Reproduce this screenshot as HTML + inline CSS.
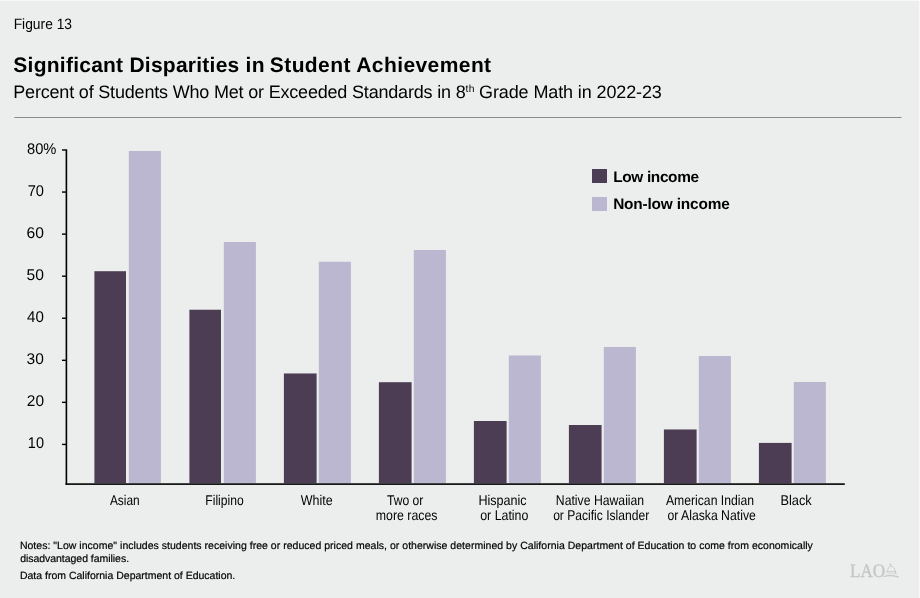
<!DOCTYPE html>
<html>
<head>
<meta charset="utf-8">
<style>
html,body{margin:0;padding:0;}
body{width:920px;height:598px;overflow:hidden;background:#eceeed;position:relative;}
svg{position:absolute;left:0;top:0;display:block;will-change:transform;}
text{font-family:"Liberation Sans",Arial,Helvetica,sans-serif;fill:#000;text-rendering:geometricPrecision;}
</style>
</head>
<body>
<svg width="920" height="598" viewBox="0 0 920 598">
  <rect x="0" y="0" width="920" height="1" fill="#f8f8f8"/>
  <rect x="919" y="0" width="1" height="598" fill="#f8f8f8"/>
  <rect x="14.3" y="117" width="887.2" height="1" fill="#8a8b8d"/>
  <g fill="#4c3d55">
    <rect x="94.40" y="271.20" width="31.60" height="212.00"/>
    <rect x="189.40" y="309.74" width="31.60" height="173.46"/>
    <rect x="283.90" y="373.46" width="32.70" height="109.74"/>
    <rect x="378.90" y="382.20" width="32.70" height="101.00"/>
    <rect x="473.90" y="421.00" width="32.70" height="62.20"/>
    <rect x="568.90" y="425.00" width="32.70" height="58.20"/>
    <rect x="663.90" y="429.46" width="32.70" height="53.74"/>
    <rect x="758.90" y="442.90" width="32.70" height="40.30"/>
  </g>
  <g fill="#bcb7d0">
    <rect x="128.80" y="150.98" width="32.1" height="332.22"/>
    <rect x="223.80" y="241.98" width="32.1" height="241.22"/>
    <rect x="318.80" y="261.74" width="32.1" height="221.46"/>
    <rect x="413.80" y="249.98" width="32.1" height="233.22"/>
    <rect x="508.80" y="355.46" width="32.1" height="127.74"/>
    <rect x="603.80" y="346.98" width="32.1" height="136.22"/>
    <rect x="698.80" y="355.98" width="32.1" height="127.22"/>
    <rect x="793.80" y="381.98" width="32.1" height="101.22"/>
  </g>
  <g fill="#000">
    <rect x="65.6" y="149.3" width="1.6" height="335.6"/>
    <rect x="65.6" y="483.3" width="779.2" height="1.6"/>
    <rect x="62" y="149.30" width="4" height="1.4"/>
    <rect x="62" y="191.36" width="4" height="1.4"/>
    <rect x="62" y="233.42" width="4" height="1.4"/>
    <rect x="62" y="275.48" width="4" height="1.4"/>
    <rect x="62" y="317.54" width="4" height="1.4"/>
    <rect x="62" y="359.60" width="4" height="1.4"/>
    <rect x="62" y="401.66" width="4" height="1.4"/>
    <rect x="62" y="443.72" width="4" height="1.4"/>
  </g>
  <rect x="592" y="169" width="15" height="14" fill="#4c3d55"/>
  <rect x="592" y="197" width="15" height="14" fill="#bcb7d0"/>
  <text id="fig" x="13.68" y="28.60" textLength="58.33" lengthAdjust="spacingAndGlyphs" style="font-size:15px;font-weight:400;">Figure 13</text>
  <text id="title1" x="13.35" y="71.90" textLength="251.15" lengthAdjust="spacing" style="font-size:21px;font-weight:700;">Significant Disparities in</text>
  <text id="title2" x="269.82" y="71.90" textLength="221.30" lengthAdjust="spacing" style="font-size:21px;font-weight:700;">Student Achievement</text>
  <text id="sub1" x="13.30" y="97.80" textLength="452.35" lengthAdjust="spacing" style="font-size:18px;font-weight:400;">Percent of Students Who Met or Exceeded Standards in 8</text>
  <text id="sub2" x="465.60" y="91.65" textLength="8.97" lengthAdjust="spacing" style="font-size:10.3px;font-weight:400;">th</text>
  <text id="sub3" x="479.04" y="97.80" textLength="182.81" lengthAdjust="spacing" style="font-size:18px;font-weight:400;">Grade Math in 2022-23</text>
  <text id="lg1" x="613.24" y="182.00" textLength="85.81" lengthAdjust="spacing" style="font-size:15.4px;font-weight:700;">Low income</text>
  <text id="lg2" x="613.16" y="208.70" textLength="116.61" lengthAdjust="spacing" style="font-size:15.4px;font-weight:700;">Non-low income</text>
  <text id="c1" x="109.90" y="504.70" textLength="29.81" lengthAdjust="spacingAndGlyphs" style="font-size:14.1px;font-weight:400;">Asian</text>
  <text id="c2" x="205.33" y="504.70" textLength="38.33" lengthAdjust="spacingAndGlyphs" style="font-size:14.1px;font-weight:400;">Filipino</text>
  <text id="c3" x="300.75" y="504.70" textLength="32.00" lengthAdjust="spacingAndGlyphs" style="font-size:14.1px;font-weight:400;">White</text>
  <text id="c4a" x="387.01" y="504.70" textLength="36.37" lengthAdjust="spacingAndGlyphs" style="font-size:14.1px;font-weight:400;">Two or</text>
  <text id="c4b" x="375.77" y="519.60" textLength="61.75" lengthAdjust="spacingAndGlyphs" style="font-size:14.1px;font-weight:400;">more races</text>
  <text id="c5a" x="478.39" y="504.70" textLength="48.25" lengthAdjust="spacingAndGlyphs" style="font-size:14.1px;font-weight:400;">Hispanic</text>
  <text id="c5b" x="480.16" y="519.60" textLength="48.27" lengthAdjust="spacingAndGlyphs" style="font-size:14.1px;font-weight:400;">or Latino</text>
  <text id="c6a" x="555.83" y="504.70" textLength="88.34" lengthAdjust="spacingAndGlyphs" style="font-size:14.1px;font-weight:400;">Native Hawaiian</text>
  <text id="c6b" x="553.13" y="519.60" textLength="96.05" lengthAdjust="spacingAndGlyphs" style="font-size:14.1px;font-weight:400;">or Pacific Islander</text>
  <text id="c7a" x="665.92" y="504.70" textLength="88.15" lengthAdjust="spacingAndGlyphs" style="font-size:14.1px;font-weight:400;">American Indian</text>
  <text id="c7b" x="667.41" y="519.60" textLength="88.40" lengthAdjust="spacingAndGlyphs" style="font-size:14.1px;font-weight:400;">or Alaska Native</text>
  <text id="c8" x="780.48" y="504.70" textLength="31.26" lengthAdjust="spacingAndGlyphs" style="font-size:14.1px;font-weight:400;">Black</text>
  <text id="n1" x="19.88" y="548.80" textLength="792.99" lengthAdjust="spacing" style="font-size:10.5px;font-weight:400;stroke:#000;stroke-width:0.2px;">Notes: "Low income" includes students receiving free or reduced priced meals, or otherwise determined by California Department of Education to come from economically</text>
  <text id="n2" x="20.14" y="561.60" textLength="108.91" lengthAdjust="spacing" style="font-size:10.5px;font-weight:400;stroke:#000;stroke-width:0.2px;">disadvantaged families.</text>
  <text id="n3" x="19.88" y="578.50" textLength="215.41" lengthAdjust="spacing" style="font-size:10.5px;font-weight:400;stroke:#000;stroke-width:0.2px;">Data from California Department of Education.</text>
  <text id="y80" x="27.00" y="153.70" textLength="29.41" lengthAdjust="spacingAndGlyphs" style="font-size:15.5px;font-weight:400;">80%</text>
  <text id="y70" x="27.65" y="195.76" textLength="16.27" lengthAdjust="spacingAndGlyphs" style="font-size:15.5px;font-weight:400;">70</text>
  <text id="y60" x="26.58" y="237.82" textLength="17.38" lengthAdjust="spacingAndGlyphs" style="font-size:15.5px;font-weight:400;">60</text>
  <text id="y50" x="26.45" y="279.88" textLength="17.41" lengthAdjust="spacingAndGlyphs" style="font-size:15.5px;font-weight:400;">50</text>
  <text id="y40" x="27.09" y="321.94" textLength="16.82" lengthAdjust="spacingAndGlyphs" style="font-size:15.5px;font-weight:400;">40</text>
  <text id="y30" x="26.62" y="364.00" textLength="17.23" lengthAdjust="spacingAndGlyphs" style="font-size:15.5px;font-weight:400;">30</text>
  <text id="y20" x="26.81" y="406.06" textLength="17.24" lengthAdjust="spacingAndGlyphs" style="font-size:15.5px;font-weight:400;">20</text>
  <text id="y10" x="27.86" y="448.12" textLength="16.13" lengthAdjust="spacingAndGlyphs" style="font-size:15.5px;font-weight:400;">10</text>
  <!-- LAO logo -->
  <text x="850" y="576.8" transform="translate(850 0) scale(0.9 1) translate(-850 0)" style="font-family:'Liberation Serif',serif;font-size:19px;fill:#c4c5c6;stroke:#c4c5c6;stroke-width:0.3px">LAO</text>
  <g fill="none" stroke="#c6c7c8" stroke-width="0.9" stroke-linecap="round">
    <path d="M889.4 564.2 Q890.4 563.4 891.4 564.2"/>
    <path d="M890.4 564.6 L890.4 566"/>
    <path d="M887.6 570.8 C887.8 568 889.2 566.4 890.6 566.2 C892.6 566.1 894.6 567.8 895.2 571"/>
    <path d="M886 571.7 L895.8 571.7" stroke-width="1.1"/>
    <path d="M895.4 571.8 L896 573.7"/>
    <path d="M886.8 573.6 L896.2 573.6" stroke-opacity="0.5"/>
    <path d="M884 576.6 Q889 574.6 898.4 576.9" stroke-width="1.1"/>
  </g>
</svg>
</body>
</html>
